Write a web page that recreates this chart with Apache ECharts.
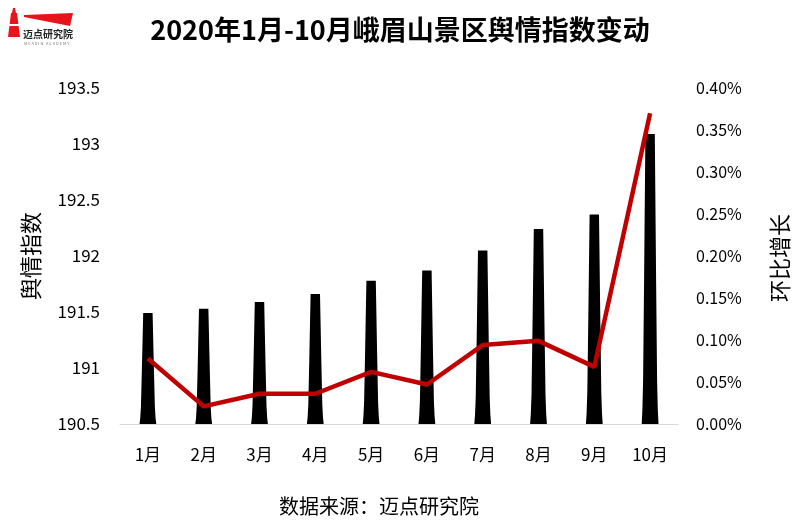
<!DOCTYPE html>
<html>
<head>
<meta charset="utf-8">
<script src="https://cdn.jsdelivr.net/npm/echarts@6/dist/echarts.min.js"></script>
<style>html,body{margin:0;padding:0;background:#fff}#c{width:800px;height:526px}</style>
</head>
<body>
<div id="c"></div>
<script>
var categories = ['1月','2月','3月','4月','5月','6月','7月','8月','9月','10月'];
var indexValues = [191.49, 191.53, 191.59, 191.66, 191.78, 191.87, 192.05, 192.24, 192.37, 193.09];
var growthValues = [0.078, 0.021, 0.036, 0.036, 0.062, 0.047, 0.094, 0.099, 0.068, 0.370];
var indexMin = 190.5;
var FONT = '"Noto Sans CJK SC", "Noto Sans", sans-serif';

var chart = echarts.init(document.getElementById('c'));
chart.setOption({
  backgroundColor: '#fff',
  animation: false,
  title: {
    text: '2020年1月-10月峨眉山景区舆情指数变动',
    left: 'center', top: 11,
    textStyle: { fontFamily: FONT, fontSize: 27, fontWeight: 'bold', color: '#000' }
  },
  graphic: [
    { type: 'polygon', shape: { points: [[11,13],[17,13],[20,37],[8,37]] }, style: { fill: '#E8141B' } },
    { type: 'polygon', shape: { points: [[13,8],[15,8],[16,13],[12,13]] }, style: { fill: '#E8141B' } },
    { type: 'rect', shape: { x: 9, y: 24, width: 10, height: 2 }, style: { fill: '#fff' } },
    { type: 'polygon', shape: { points: [[24,15],[73,13],[70,26],[24,17]] }, style: { fill: '#E8141B' } },
    { type: 'text', left: 23, top: 29, style: { text: '迈点研究院', fontFamily: FONT, fontSize: 10, fontWeight: 'bold', fill: '#222' } },
    { type: 'text', left: 24, top: 41, style: { text: 'M E A D I N   A C A D E M Y', fontFamily: FONT, fontSize: 4, fill: '#777' } },
    { type: 'text', left: 279, top: 496, style: { text: '数据来源：迈点研究院', fontFamily: FONT, fontSize: 20, fill: '#000' } },
    { type: 'text', x: 780, y: 258, rotation: Math.PI / 2,
      style: { text: '环比增长', fontFamily: FONT, fontSize: 22, fill: '#000', align: 'center', verticalAlign: 'middle' } }
  ],
  grid: { left: 120, right: 122, top: 88, bottom: 102 },
  xAxis: {
    type: 'category',
    data: categories,
    axisLine: { lineStyle: { color: '#D9D9D9', width: 1 } },
    axisTick: { show: false },
    axisLabel: { color: '#000', fontSize: 17, fontFamily: FONT, margin: 22 }
  },
  yAxis: [
    {
      type: 'value', min: indexMin, max: 193.5, interval: 0.5,
      name: '舆情指数', nameLocation: 'middle', nameGap: 78, nameRotate: 90,
      nameTextStyle: { fontFamily: FONT, fontSize: 22, color: '#000' },
      axisLine: { show: false }, axisTick: { show: false }, splitLine: { show: false },
      axisLabel: { color: '#000', fontSize: 17, fontFamily: FONT, margin: 20 }
    },
    {
      type: 'value', min: 0, max: 0.4, interval: 0.05,
      axisLine: { show: false }, axisTick: { show: false }, splitLine: { show: false },
      axisLabel: { color: '#000', fontSize: 16, fontFamily: FONT, margin: 18,
        formatter: function (v) { return v.toFixed(2) + '%'; } }
    }
  ],
  series: [
    {
      type: 'custom',
      yAxisIndex: 0,
      data: indexValues.map(function (v, i) { return [i, v]; }),
      encode: { x: 0, y: 1 },
      renderItem: function (params, api) {
        var top = api.coord([api.value(0), api.value(1)]);
        var bot = api.coord([api.value(0), indexMin]);
        var cx = top[0], t = top[1], b = bot[1], h = b - t;
        return {
          type: 'polygon',
          shape: { points: [
            [cx - 4.7, t], [cx + 4.7, t],
            [cx + 6.0, t + 0.5 * h], [cx + 7.0, t + 0.85 * h], [cx + 7.7, t + 0.95 * h], [cx + 8.4, b],
            [cx - 8.4, b], [cx - 7.7, t + 0.95 * h], [cx - 7.0, t + 0.85 * h], [cx - 6.0, t + 0.5 * h]
          ] },
          style: { fill: '#000' }
        };
      },
      z: 2
    },
    {
      type: 'line',
      data: growthValues,
      yAxisIndex: 1,
      symbol: 'none',
      lineStyle: { color: '#C00000', width: 4.5 },
      z: 3
    }
  ]
});
</script>
</body>
</html>
